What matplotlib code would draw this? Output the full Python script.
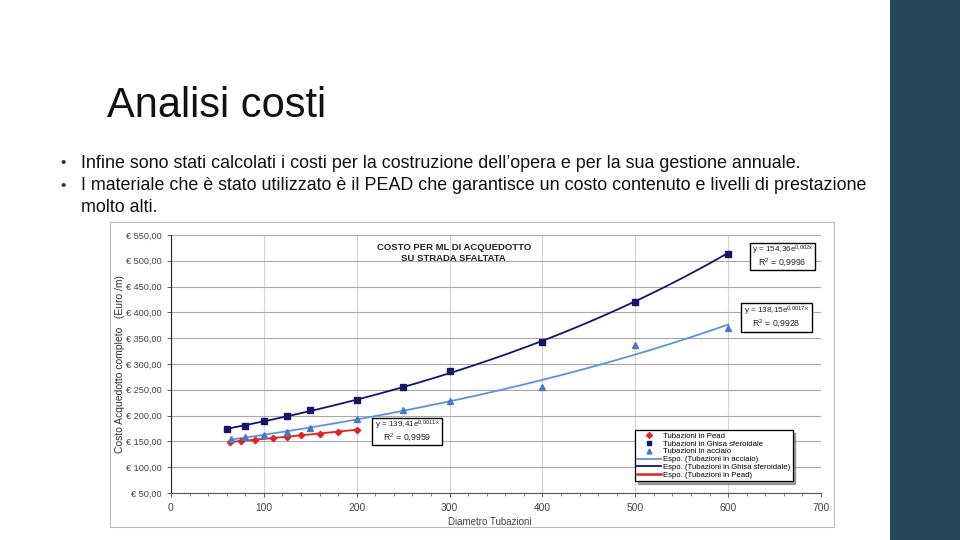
import numpy as np
import matplotlib
matplotlib.use("Agg")
import matplotlib.pyplot as plt
from matplotlib.patches import Rectangle
from matplotlib.lines import Line2D
from matplotlib.ticker import MultipleLocator, FuncFormatter

plt.rcParams['font.family'] = ['Liberation Sans', 'DejaVu Sans']
plt.rcParams['mathtext.fontset'] = 'custom'
plt.rcParams['mathtext.rm'] = 'Liberation Sans'
plt.rcParams['mathtext.it'] = 'Liberation Sans'

# ---- data ----
pead_x = [63, 75, 90, 110, 125, 140, 160, 180, 200]
pead_y = [149, 151, 153, 156, 159, 162, 165, 169, 173]
ghisa_x = [60, 80, 100, 125, 150, 200, 250, 300, 400, 500, 600]
ghisa_y = [174, 180, 189, 199, 210, 230, 255, 287, 343, 421, 514]
acciaio_x = [65, 80, 100, 125, 150, 200, 250, 300, 400, 500, 600]
acciaio_y = [155, 158, 163, 168, 176, 193, 210, 229, 256, 337, 370]

eq_ghisa = ("154,36", "0,002x", "0,9996")
eq_acciaio = ("138,15", "0,0017x", "0,9928")
eq_pead = ("139,41", "0,0011x", "0,9959")

title = "Analisi costi"
bullets = [
    "Infine sono stati calcolati i costi per la costruzione dell\u2019opera e per la sua gestione annuale.",
    "I materiale che \u00e8 stato utilizzato \u00e8 il PEAD che garantisce un costo contenuto e livelli di prestazione",
    "molto alti.",
]
chart_title = "COSTO PER ML DI ACQUEDOTTO\nSU STRADA SFALTATA"
xlabel = "Diametro Tubazioni"
ylabel = "Costo Acquedotto completo   (Euro /m)"
legend_labels = ["Tubazioni in Pead", "Tubazioni in Ghisa sferoidale", "Tubazioni in acciaio",
                 "Espo. (Tubazioni in acciaio)", "Espo. (Tubazioni in Ghisa sferoidale)",
                 "Espo. (Tubazioni in Pead)"]

C_RED = "#e32322"
C_NAVY = "#15156b"
C_BLUE = "#4a78d0"
C_LBLUE = "#5c93dd"

W, H = 960, 540
fig = plt.figure(figsize=(9.6, 5.4), dpi=100)
fig.patch.set_facecolor("white")

# right dark band
fig.add_artist(Rectangle((890 / W, 0), 70 / W, 1, transform=fig.transFigure,
                         facecolor="#26475a", edgecolor="none", zorder=-2))

# slide title and bullets
fig.text(107 / W, 1 - 106 / H, title, fontsize=30, va="center", ha="left", color="#111111")
ys = [163, 186, 208]
for i, (t, y) in enumerate(zip(bullets, ys)):
    if i < 2:
        fig.text(60 / W, 1 - y / H, "\u2022", fontsize=11, va="center", ha="left", color="#333333")
    fig.text(81 / W, 1 - y / H, t, fontsize=12.9, va="center", ha="left", color="#111111")

# chart frame
fig.add_artist(Rectangle((110 / W, 1 - 527 / H), (834 - 110) / W, (527 - 222) / H,
                         transform=fig.transFigure, facecolor="white", edgecolor="#bbbbbb",
                         lw=0.8, zorder=-1))

ax = fig.add_axes([171 / W, 1 - 493 / H, (821 - 171) / W, (493 - 235) / H])
ax.patch.set_alpha(0)
ax.set_xlim(0, 700)
ax.set_ylim(50, 550)
ax.xaxis.set_major_locator(MultipleLocator(100))
ax.xaxis.set_minor_locator(MultipleLocator(20))
ax.yaxis.set_major_locator(MultipleLocator(50))
ax.yaxis.set_major_formatter(FuncFormatter(lambda v, p: "\u20ac " + f"{v:.2f}".replace(".", ",")))
ax.grid(True, axis="y", color="#a8a8a8", lw=0.8)
ax.grid(True, axis="x", color="#d4d4d4", lw=0.8)
ax.set_axisbelow(True)
for s in ["top", "right"]:
    ax.spines[s].set_visible(False)
ax.spines["left"].set_color("#222222")
ax.spines["bottom"].set_color("#555555")
ax.tick_params(axis="y", labelsize=6.6, colors="#444444", length=3, width=0.6)
ax.tick_params(axis="x", labelsize=7.4, colors="#444444", length=3, width=0.6, pad=4)
ax.tick_params(axis="x", which="minor", length=2, width=0.5, colors="#555555")

# trendlines (exponential fits of the data)
def expfit(x, y):
    b, ln_a = np.polyfit(np.array(x, float), np.log(np.array(y, float)), 1)
    xs = np.linspace(min(x), max(x), 200)
    return xs, np.exp(ln_a) * np.exp(b * xs)

for xx, yy, c in [(acciaio_x, acciaio_y, C_LBLUE), (ghisa_x, ghisa_y, C_NAVY), (pead_x, pead_y, C_RED)]:
    xs, fs = expfit(xx, yy)
    ax.plot(xs, fs, color=c, lw=1.3, zorder=3)

ax.plot(pead_x, pead_y, ls="none", marker="D", ms=3.2, color=C_RED, zorder=4)
ax.plot(ghisa_x, ghisa_y, ls="none", marker="s", ms=4.5, color=C_NAVY, zorder=4)
ax.plot(acciaio_x, acciaio_y, ls="none", marker="^", ms=4.2, color=C_BLUE, zorder=4)

ax.set_xlabel(xlabel, fontsize=7, color="#444444", labelpad=1)
ax.xaxis.set_label_coords((490 - 171) / 650, -(517 - 493) / 258)
ax.set_ylabel(ylabel, fontsize=7.5, color="#333333", labelpad=1)

ax.text(0.435, 0.97, chart_title, transform=ax.transAxes, ha="center", va="top",
        fontsize=6.8, fontweight="bold", color="#222222", linespacing=1.3)

def eqbox(xc, yc, eq, w, h):
    x0 = (xc - w / 2 - 171) / 650
    y0 = (493 - yc - h / 2) / 258
    ax.add_patch(Rectangle((x0, y0), w / 650, h / 258, transform=ax.transAxes,
                           facecolor="white", edgecolor="black", lw=1.0, zorder=6))
    a, b, r = eq
    ax.text((xc - 171) / 650, (493 - yc + h / 4.5) / 258,
            "y = " + a + "e$^{" + b.replace(",", "{,}") + "}$",
            transform=ax.transAxes, ha="center", va="center", fontsize=5.9, color="#222222", zorder=7)
    ax.text((xc - 171) / 650, (493 - yc - h / 4.5) / 258,
            "R$^{2}$ = " + r, transform=ax.transAxes, ha="center", va="center",
            fontsize=6.3, color="#222222", zorder=7)

eqbox(782.5, 256.5, eq_ghisa, 65, 27)
eqbox(776.5, 317.5, eq_acciaio, 71, 29)
eqbox(407, 431.5, eq_pead, 70, 27)

# legend
handles = [
    Line2D([], [], ls="none", marker="D", ms=3, color=C_RED),
    Line2D([], [], ls="none", marker="s", ms=3.5, color=C_NAVY),
    Line2D([], [], ls="none", marker="^", ms=3.5, color=C_BLUE),
    Line2D([], [], color=C_LBLUE, lw=1.3),
    Line2D([], [], color=C_NAVY, lw=1.3),
    Line2D([], [], color=C_RED, lw=1.8),
]
leg = ax.legend(handles, legend_labels, loc="upper left",
                bbox_to_anchor=((635 - 171) / 650, (493 - 430) / 258),
                fontsize=5.6, frameon=True, fancybox=False, shadow=True,
                handlelength=3.0, handletextpad=0.3, labelspacing=0.05,
                borderpad=0.3, borderaxespad=0)
leg.get_frame().set_edgecolor("black")
leg.get_frame().set_linewidth(0.9)
leg.set_zorder(8)

fig.savefig("out.png", dpi=100)
